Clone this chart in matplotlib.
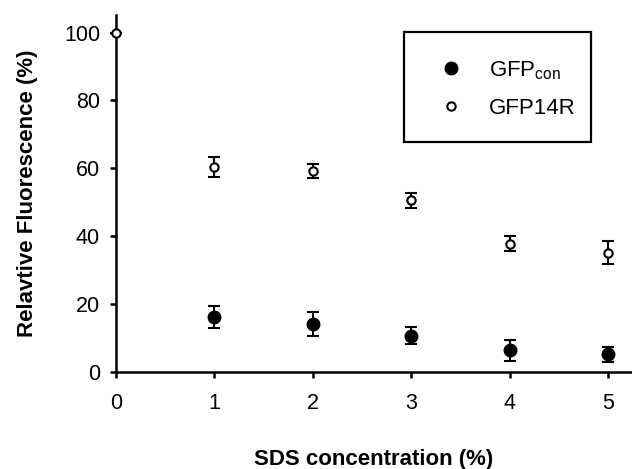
import matplotlib.pyplot as plt
from matplotlib.lines import Line2D
from matplotlib.patches import Rectangle

plt.rcParams['font.family'] = ['Liberation Sans', 'DejaVu Sans']
plt.rcParams['mathtext.fontset'] = 'custom'
plt.rcParams['mathtext.rm'] = 'Liberation Sans'

# Datos
sds = [0, 1, 2, 3, 4, 5]
gfp_con_x = [1, 2, 3, 4, 5]
gfp_con = [16.2, 14.0, 10.6, 6.3, 5.1]
gfp_con_err = [3.3, 3.6, 2.5, 3.0, 2.3]
gfp14r = [100, 60.3, 59.2, 50.5, 37.8, 35.1]
gfp14r_err = [0, 3.0, 2.2, 2.2, 2.3, 3.4]

fig = plt.figure(figsize=(6.32, 4.69), dpi=100)
ax = fig.add_axes([116 / 632, 1 - 371.7 / 469, (632 - 116) / 632, (371.7 - 15) / 469])

ax.errorbar(gfp_con_x, gfp_con, yerr=gfp_con_err, fmt='o', color='black',
            markersize=9, elinewidth=1.5, capsize=4.5, capthick=1.5, zorder=3)
ax.errorbar(sds, gfp14r, yerr=gfp14r_err, fmt='o', color='black',
            markerfacecolor='white', markeredgewidth=1.5, markersize=6,
            elinewidth=1.5, capsize=4.5, capthick=1.5, zorder=3, clip_on=False)

ax.set_xlim(0, 5.245)
ax.set_ylim(0, 105.2)
ax.set_xticks([0, 1, 2, 3, 4, 5])
ax.set_yticks([0, 20, 40, 60, 80, 100])

for side in ['top', 'right']:
    ax.spines[side].set_visible(False)
for side in ['left', 'bottom']:
    ax.spines[side].set_linewidth(1.8)

ax.tick_params(axis='both', direction='out', length=4.5, width=1.8, labelsize=15.5)
ax.tick_params(axis='x', pad=11)
ax.tick_params(axis='y', pad=7)

ax.set_xlabel('SDS concentration (%)', fontsize=16, fontweight='bold', labelpad=25)
ax.set_ylabel('Relavtive Fluorescence (%)', fontsize=16, fontweight='bold', labelpad=19)

# Leyenda: marco dibujado aparte
fig.patches.append(Rectangle((404 / 632, 1 - 141.7 / 469), (590.7 - 404) / 632,
                             (141.7 - 31.7) / 469, transform=fig.transFigure,
                             fill=False, edgecolor='black', linewidth=1.6))
handles = [
    Line2D([], [], marker='o', linestyle='none', color='black', markersize=9),
    Line2D([], [], marker='o', linestyle='none', color='black',
           markerfacecolor='white', markeredgewidth=1.5, markersize=6),
]
ax.legend(handles, [r'GFP$_{\mathrm{con}}$', 'GFP14R'], fontsize=16,
          loc='upper left', bbox_to_anchor=(439.6 / 632, 1 - 59 / 469),
          bbox_transform=fig.transFigure, frameon=False,
          borderpad=0, labelspacing=0.72, handlelength=1.0,
          handletextpad=1.22, borderaxespad=0)

fig.savefig('out.png', dpi=100)
